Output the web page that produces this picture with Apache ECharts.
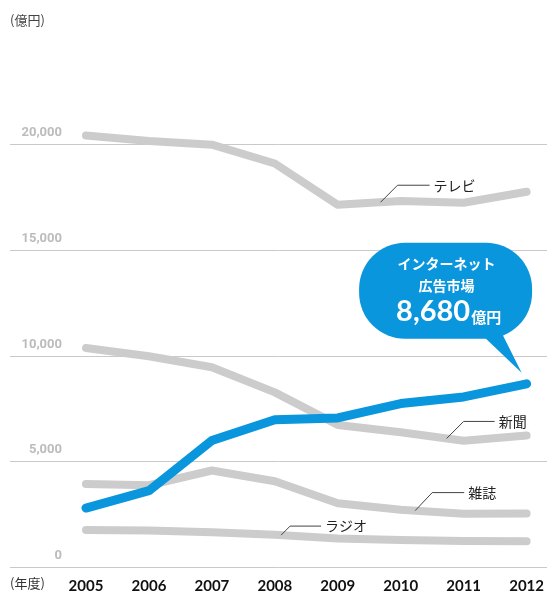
<!DOCTYPE html>
<html>
<head>
<meta charset="utf-8">
<script src="https://cdn.jsdelivr.net/npm/echarts@6/dist/echarts.min.js"></script>
<style>
html,body{margin:0;padding:0;background:#fff;}
#chart{width:547px;height:595px;}
</style>
</head>
<body>
<div id="chart"></div>
<script>
const years = ['2005', '2006', '2007', '2008', '2009', '2010', '2011', '2012'];
const tv = [20411, 20161, 19981, 19092, 17139, 17321, 17237, 17757];
const newspaper = [10377, 9986, 9462, 8276, 6739, 6396, 5990, 6242];
const magazine = [3945, 3887, 4585, 4078, 3034, 2733, 2542, 2551];
const radio = [1778, 1744, 1671, 1549, 1370, 1299, 1247, 1246];
const internet = [2808, 3630, 6003, 6983, 7069, 7747, 8062, 8680];
const yTicks = [0, 5000, 10000, 15000, 20000];
const seriesNames = ['テレビ', '新聞', '雑誌', 'ラジオ', 'インターネット広告市場'];

const GRAY = '#cbcccb';
const BLUE = '#0a96dc';
const JP = '"Noto Sans CJK JP", "Noto Sans", sans-serif';

const chart = echarts.init(document.getElementById('chart'), null, {renderer: 'canvas'});

const gridTop = 144.3, gridBottom = 27.5;

function grayLine(name, data) {
  return {
    name: name, type: 'line', xAxisIndex: 1, yAxisIndex: 1, data: data,
    symbol: 'none', clip: false, z: 2, silent: true,
    lineStyle: {color: GRAY, width: 8, cap: 'round', join: 'round'}
  };
}

chart.setOption({
  animation: false,
  backgroundColor: '#fff',
  grid: [
    {left: 10, right: 0, top: gridTop, bottom: gridBottom},
    {left: 86, right: 17, top: gridTop, bottom: gridBottom}
  ],
  xAxis: [
    {type: 'category', gridIndex: 0, data: years, show: false},
    {type: 'category', gridIndex: 1, data: years, boundaryGap: false,
     axisLine: {show: false}, axisTick: {show: false}, splitLine: {show: false},
     axisLabel: {color: '#111', fontSize: 15, fontWeight: 'bold', fontFamily: 'Lato, "Noto Sans", sans-serif', margin: 11}}
  ],
  yAxis: [
    {type: 'value', gridIndex: 0, min: yTicks[0], max: yTicks[yTicks.length - 1], interval: yTicks[1] - yTicks[0],
     axisLine: {show: false}, axisTick: {show: false},
     splitLine: {show: true, lineStyle: {color: '#c9c9c9', width: 1}},
     axisLabel: {inside: true, margin: 52, align: 'right', verticalAlign: 'bottom', padding: [0, 0, 5, 0],
       color: '#bcbcbc', fontSize: 13, fontWeight: 'bold', fontFamily: 'Roboto, "Noto Sans", sans-serif',
       formatter: v => v.toLocaleString('en-US')}},
    {type: 'value', gridIndex: 1, min: yTicks[0], max: yTicks[yTicks.length - 1], interval: yTicks[1] - yTicks[0], show: false}
  ],
  series: [
    grayLine(seriesNames[0], tv),
    grayLine(seriesNames[1], newspaper),
    grayLine(seriesNames[2], magazine),
    grayLine(seriesNames[3], radio),
    {name: seriesNames[4], type: 'line', xAxisIndex: 1, yAxisIndex: 1, data: internet,
     symbol: 'none', clip: false, z: 5, silent: true,
     lineStyle: {color: BLUE, width: 9, cap: 'round', join: 'round'}}
  ]
});

function px(i, v) { return chart.convertToPixel({gridIndex: 1}, [years[i], v]); }
function along(arr, i, t) {
  const a = px(i, arr[i]), b = px(i + 1, arr[i + 1]);
  return [a[0] + (b[0] - a[0]) * t, a[1] + (b[1] - a[1]) * t];
}

const graphics = [];
graphics.push({type: 'text', left: 10, top: 14, style: {text: '(億円)', fill: '#444', font: '13px ' + JP}});
graphics.push({type: 'text', left: 10, top: 577, style: {text: '(年度)', fill: '#333', font: '13px ' + JP}});

function leader(label, start, dx, dy, len) {
  const p1 = [start[0] + dx, start[1] + dy];
  const p2 = [p1[0] + len, p1[1]];
  graphics.push({type: 'polyline', z: 10, shape: {points: [start, p1, p2]},
    style: {stroke: '#444', lineWidth: 1, fill: null}});
  graphics.push({type: 'text', z: 10, x: p2[0] + 4, y: p2[1],
    style: {text: label, fill: '#222', font: '14px ' + JP, textAlign: 'left', textVerticalAlign: 'middle'}});
}
leader(seriesNames[0], along(tv, 4, 0.68), 17, -17, 32);
leader(seriesNames[1], along(newspaper, 5, 0.73), 17, -17, 31);
leader(seriesNames[2], along(magazine, 5, 0.23), 17, -18, 32);
leader(seriesNames[3], along(radio, 3, 0.1), 9, -9, 31);

// speech bubble anchored to the last internet point
const last = internet.length - 1;
const end = px(last, internet[last]);
const cx = end[0] - 81, cy = end[1] - 93;
const bw = 173, bh = 96;
graphics.push({type: 'rect', z: 20, shape: {x: cx - bw / 2, y: cy - bh / 2, width: bw, height: bh, r: 46},
  style: {fill: BLUE}});
graphics.push({type: 'polygon', z: 20, shape: {points: [[cx + 32, cy + 40], [cx + 54, cy + 38], [end[0] - 5, end[1] - 11]]},
  style: {fill: BLUE}});
graphics.push({type: 'text', z: 21, x: cx + 1, y: cy - 27,
  style: {text: 'インターネット', fill: '#fff', font: 'bold 14px ' + JP, textAlign: 'center', textVerticalAlign: 'middle'}});
graphics.push({type: 'text', z: 21, x: cx + 1, y: cy - 5,
  style: {text: '広告市場', fill: '#fff', font: 'bold 14px ' + JP, textAlign: 'center', textVerticalAlign: 'middle'}});
graphics.push({type: 'text', z: 21, x: cx + 3, y: cy + 21,
  style: {text: '{n|' + internet[last].toLocaleString('en-US') + '}{u|億円}', fill: '#fff', textAlign: 'center', textVerticalAlign: 'middle',
    rich: {
      n: {fontSize: 29, fontWeight: 'bold', fontFamily: 'Lato, "Noto Sans", sans-serif', fill: '#fff', verticalAlign: 'bottom'},
      u: {fontSize: 15, fontWeight: 'bold', fontFamily: JP, fill: '#fff', verticalAlign: 'bottom', padding: [0, 0, 2, 1]}
    }}});

chart.setOption({graphic: graphics});
</script>
</body>
</html>
